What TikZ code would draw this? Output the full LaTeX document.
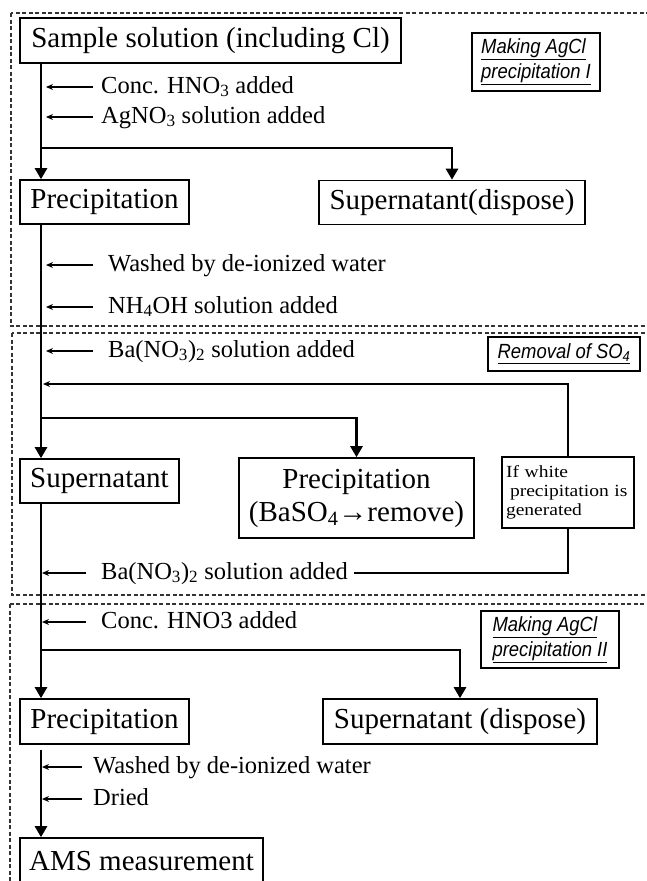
\documentclass[tikz,border=0pt]{standalone}
\usepackage{fontspec}
\setmainfont{Liberation Serif}
\newfontfamily\tagfont[FakeStretch=0.9]{Liberation Sans}
\newfontfamily\notefont[FakeStretch=1.15]{Liberation Serif}
\usetikzlibrary{arrows.meta,positioning}

\begin{document}
\begin{tikzpicture}[
  x=1pt, y=-1pt,
  box/.style={draw, line width=1.6pt, inner sep=0pt, align=center, minimum height=44pt, font=\fontsize{29}{33}\selectfont},
  tagbox/.style={draw, line width=1.4pt, inner sep=4pt, align=left, font=\tagfont\itshape\fontsize{20.5}{25}\selectfont},
  condbox/.style={draw, line width=1.4pt, inner sep=3pt, align=left, font=\notefont\fontsize{17}{19}\selectfont},
  addtext/.style={anchor=west, inner sep=0pt, text height=16pt, text depth=4pt, font=\fontsize{24.5}{27}\selectfont},
  region/.style={draw=black!80, line width=1.2pt, dash pattern=on 4pt off 2.5pt},
  flow/.style={line width=2.6pt, -{Triangle[length=11pt,width=12pt]}},
  addarr/.style={line width=1.5pt, -{Stealth[length=7pt,width=6pt]}},
  fbline/.style={line width=1.5pt},
]
\useasboundingbox (0,0) rectangle (646,881);

% ====== REGIONS ======
\draw[region] (11,13) rectangle (700,326);
\draw[region] (12,333) rectangle (700,595);
\draw[region] (10,604) rectangle (700,920);

\coordinate (trunk) at (41,0);

% ====== MAKING AgCl PRECIPITATION I ======
\node[box, minimum width=381pt, minimum height=45pt] (sample) at (210.5,40.5) {Sample solution (including Cl)};
\node[tagbox, minimum width=128pt, minimum height=58pt] (tag1) at (536,62) {\underline{Making AgCl}\\\underline{precipitation I}};
\node[addtext] (hno1) at (101,87) {Conc. HNO\textsubscript{3} added};
\node[addtext] (agno) at (101,117) {AgNO\textsubscript{3} solution added};
\node[box, minimum width=169pt] (prec1) at (104.5,202) {Precipitation};
\node[box, minimum width=266pt] (disp1) at (452,202.5) {Supernatant(dispose)};
\coordinate (split1) at (41,148);

% main flow and split
\draw[flow] (sample.south -| trunk) -- (prec1.north -| trunk);
\draw[flow] (split1) -| (disp1.north);
\draw[addarr, shorten >=5pt] ([xshift=-8pt]hno1.west) -- (hno1.west -| trunk);
\draw[addarr, shorten >=5pt] ([xshift=-8pt]agno.west) -- (agno.west -| trunk);

% ====== REMOVAL OF SO4 ======
\node[addtext] (wash1) at (108,265) {Washed by de-ionized water};
\node[addtext] (nh4) at (108,307) {NH\textsubscript{4}OH solution added};
\node[addtext] (ba1) at (108,351) {Ba(NO\textsubscript{3})\textsubscript{2} solution added};
\node[tagbox, minimum width=152pt, minimum height=34pt, inner sep=3pt] (tag2) at (564,354) {\underline{Removal of SO\textsubscript{4}}};
\node[box, minimum width=159pt] (super) at (99.5,481) {Supernatant};
\node[box, minimum width=235pt, minimum height=80pt] (baso) at (356.5,498) {Precipitation\\(BaSO\textsubscript{4}→remove)};
\node[condbox, minimum width=132pt, minimum height=71pt, text width=124pt] (white) at (568,492.5) {If white\\\hspace*{4pt}precipitation is\\generated};
\node[addtext] (ba2) at (101,573) {Ba(NO\textsubscript{3})\textsubscript{2} solution added};
\coordinate (split2) at (41,418);
\coordinate (back) at (43,384);

\draw[addarr, shorten >=5pt] ([xshift=-15pt]wash1.west) -- (wash1.west -| trunk);
\draw[addarr, shorten >=5pt] ([xshift=-15pt]nh4.west) -- (nh4.west -| trunk);
\draw[addarr, shorten >=5pt] ([xshift=-15pt]ba1.west) -- (ba1.west -| trunk);
\draw[flow] (prec1.south -| trunk) -- (super.north -| trunk);
\draw[flow] (split2) -| (baso.north);

% repeat loop when white precipitation appears
\draw[addarr] (white.north) |- (back);
\draw[fbline] (white.south) |- ([xshift=6pt]ba2.east);
\draw[addarr, shorten >=1pt] ([xshift=-15pt]ba2.west) -- (ba2.west -| trunk);

% ====== MAKING AgCl PRECIPITATION II ======
\node[addtext] (hno2) at (101,622) {Conc. HNO3 added};
\node[tagbox, minimum width=138pt, minimum height=57pt] (tag3) at (550,639.5) {\underline{Making AgCl}\\\underline{precipitation II}};
\node[box, minimum width=169pt, minimum height=45pt] (prec2) at (104.5,721.5) {Precipitation};
\node[box, minimum width=274pt, minimum height=45pt] (disp2) at (460,721.5) {Supernatant (dispose)};
\node[addtext] (wash2) at (93,767) {Washed by de-ionized water};
\node[addtext] (dried) at (93,799) {Dried};
\node[box, minimum width=243pt, minimum height=46pt] (ams) at (141.5,861) {AMS measurement};
\coordinate (split3) at (41,650);
\coordinate (prec2low) at ([yshift=-5pt]prec2.south);

\draw[addarr, shorten >=1pt] ([xshift=-15pt]hno2.west) -- (hno2.west -| trunk);
\draw[flow] (super.south -| trunk) -- (prec2.north -| trunk);
\draw[flow] (split3) -| (disp2.north);
\draw[flow] (prec2low -| trunk) -- (ams.north -| trunk);
\draw[addarr, shorten >=1pt] ([xshift=-11pt]wash2.west) -- (wash2.west -| trunk);
\draw[addarr, shorten >=1pt] ([xshift=-11pt]dried.west) -- (dried.west -| trunk);

\end{tikzpicture}
\end{document}
